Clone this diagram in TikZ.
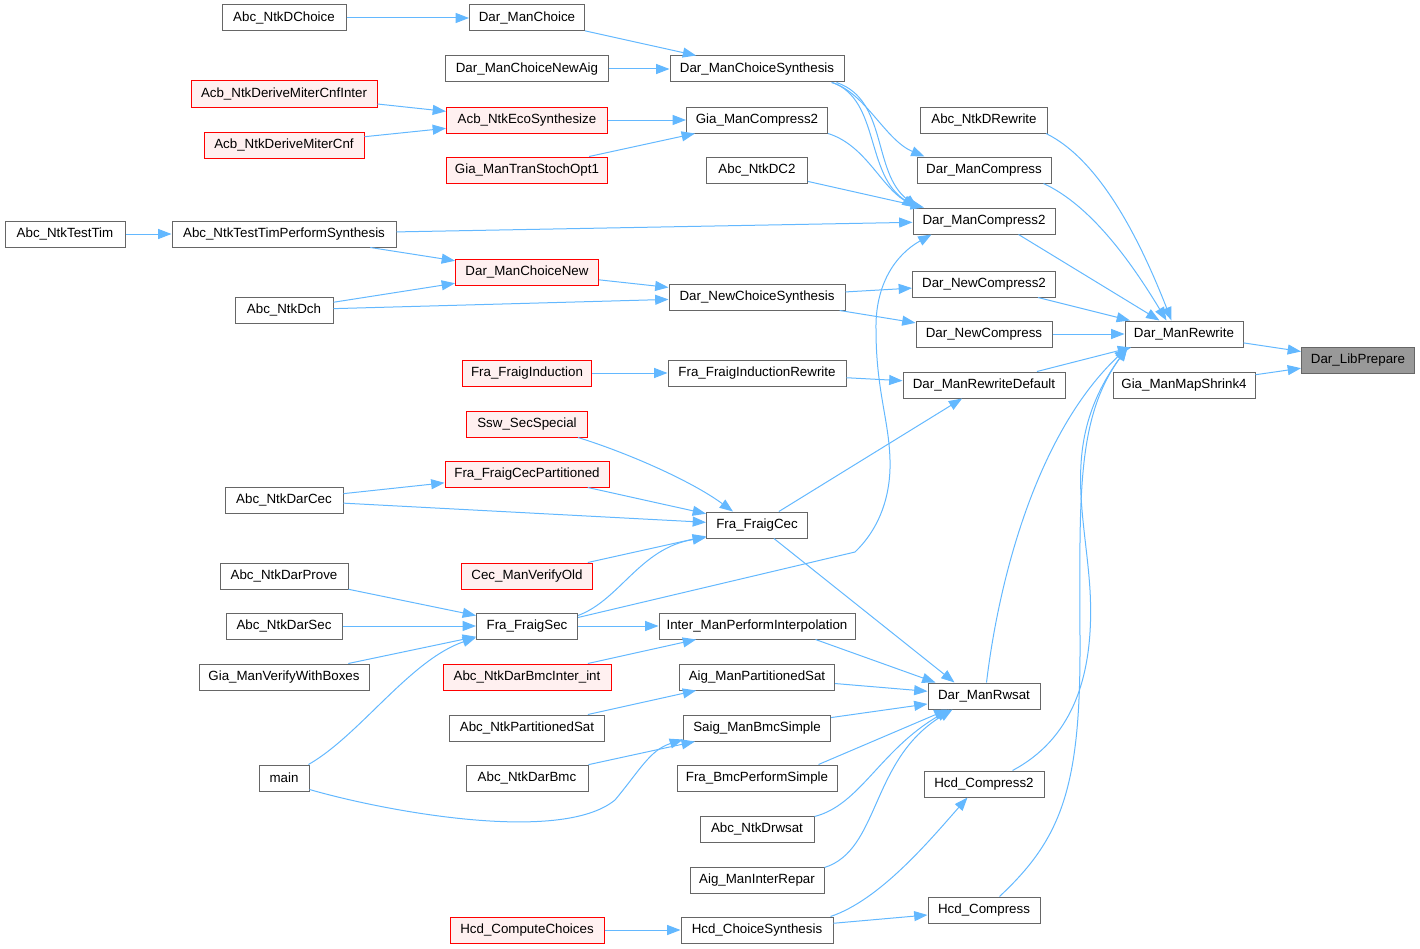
\documentclass[tikz,border=0pt]{standalone}
\usepackage{fontspec}
\setmainfont{Liberation Sans}
\usetikzlibrary{arrows.meta,calc}
\definecolor{edgec}{HTML}{63B8FF}
\definecolor{bordc}{HTML}{666666}
\definecolor{redfill}{HTML}{FFF0F0}
\definecolor{grayfill}{HTML}{999999}
\begin{document}
\begin{tikzpicture}[x=0.75pt,y=-0.75pt,
  box/.style={draw=bordc, fill=white, line width=0.75pt, minimum height=19.5pt, inner sep=0pt, font=\fontsize{10}{12}\selectfont},
  wd/.style={minimum width=#1*0.75pt},
  rbox/.style={box, draw=red, fill=redfill},
  gbox/.style={box, fill=grayfill},
  conn/.style={draw=edgec, line width=0.75pt, -{Triangle[length=10pt,width=7.5pt]}}]
\useasboundingbox (0,0) rectangle (1420,949);
% column 1
\node[box,wd=124] (dchoice) at (284,18) {Abc\_NtkDChoice};
\node[rbox,wd=186] (cnfinter) at (284,94) {Acb\_NtkDeriveMiterCnfInter};
\node[rbox,wd=160] (cnf) at (284,145) {Acb\_NtkDeriveMiterCnf};
\node[box,wd=120] (testtim) at (65,234) {Abc\_NtkTestTim};
\node[box,wd=224] (tps) at (284,234) {Abc\_NtkTestTimPerformSynthesis};
\node[box,wd=98] (dch) at (284,310) {Abc\_NtkDch};
\node[box,wd=118] (darcec) at (284,500) {Abc\_NtkDarCec};
\node[box,wd=128] (darprove) at (284,576) {Abc\_NtkDarProve};
\node[box,wd=116] (darsec) at (284,626) {Abc\_NtkDarSec};
\node[box,wd=170] (vwb) at (284,677) {Gia\_ManVerifyWithBoxes};
\node[box,wd=50] (main) at (284,778) {main};
% column 2
\node[box,wd=115] (mchoice) at (527,18) {Dar\_ManChoice};
\node[box,wd=163] (mcnaig) at (527,69) {Dar\_ManChoiceNewAig};
\node[rbox,wd=161] (eco) at (527,120) {Acb\_NtkEcoSynthesize};
\node[rbox,wd=161] (tso) at (527,170) {Gia\_ManTranStochOpt1};
\node[rbox,wd=143] (mcnew) at (527,272) {Dar\_ManChoiceNew};
\node[rbox,wd=129] (find) at (527,373) {Fra\_FraigInduction};
\node[rbox,wd=121] (ssw) at (527,424) {Ssw\_SecSpecial};
\node[rbox,wd=164] (fcp) at (527,474) {Fra\_FraigCecPartitioned};
\node[rbox,wd=131] (cvo) at (527,576) {Cec\_ManVerifyOld};
\node[box,wd=101] (fsec) at (527,626) {Fra\_FraigSec};
\node[rbox,wd=168] (bmcint) at (527,677) {Abc\_NtkDarBmcInter\_int};
\node[box,wd=155] (npsat) at (527,728) {Abc\_NtkPartitionedSat};
\node[box,wd=122] (darbmc) at (527,778) {Abc\_NtkDarBmc};
\node[rbox,wd=154] (hcc) at (527,930) {Hcd\_ComputeChoices};
% column 3
\node[box,wd=174] (mcs) at (757,69) {Dar\_ManChoiceSynthesis};
\node[box,wd=141] (gc2) at (757,120) {Gia\_ManCompress2};
\node[box,wd=101] (dc2) at (757,170) {Abc\_NtkDC2};
\node[box,wd=176] (ncs) at (757,297) {Dar\_NewChoiceSynthesis};
\node[box,wd=178] (fir) at (757,373) {Fra\_FraigInductionRewrite};
\node[box,wd=101] (fcec) at (757,525) {Fra\_FraigCec};
\node[box,wd=196] (interp) at (757,626) {Inter\_ManPerformInterpolation};
\node[box,wd=155] (apsat) at (757,677) {Aig\_ManPartitionedSat};
\node[box,wd=147] (bmcs) at (757,728) {Saig\_ManBmcSimple};
\node[box,wd=160] (fbmc) at (757,778) {Fra\_BmcPerformSimple};
\node[box,wd=114] (drwsat) at (757,829) {Abc\_NtkDrwsat};
\node[box,wd=134] (irep) at (757,880) {Aig\_ManInterRepar};
\node[box,wd=152] (hcs) at (757,930) {Hcd\_ChoiceSynthesis};
% column 4
\node[box,wd=127] (drw) at (984,120) {Abc\_NtkDRewrite};
\node[box,wd=134] (mc) at (984,170) {Dar\_ManCompress};
\node[box,wd=142] (mc2) at (984,221) {Dar\_ManCompress2};
\node[box,wd=143] (nc2) at (984,284) {Dar\_NewCompress2};
\node[box,wd=136] (nc) at (984,334) {Dar\_NewCompress};
\node[box,wd=162] (mrd) at (984,385) {Dar\_ManRewriteDefault};
\node[box,wd=112] (rwsat) at (984,696) {Dar\_ManRwsat};
\node[box,wd=120] (hc2) at (984,784) {Hcd\_Compress2};
\node[box,wd=112] (hc) at (984,910) {Hcd\_Compress};
% column 5, 6
\node[box,wd=118] (mrw) at (1184,334) {Dar\_ManRewrite};
\node[box,wd=142] (shr) at (1184,385) {Gia\_ManMapShrink4};
\node[gbox,wd=113] (lib) at (1358,360) {Dar\_LibPrepare};
% edges
\draw[conn] (dchoice) -- (mchoice);
\draw[conn] (mchoice) -- (mcs);
\draw[conn] (mcnaig) -- (mcs);
\draw[conn] (cnfinter) -- (eco);
\draw[conn] (cnf) -- (eco);
\draw[conn] (eco) -- (gc2);
\draw[conn] (tso) -- (gc2);
\draw[conn] ($(mcs.south east)+(-13,0)$) .. controls (865,92) and (885,140) .. ($(mc.north west)+(8,0)$);
\draw[conn] ($(mcs.south east)+(-12,0)$) .. controls (880,100) and (865,175) .. ($(mc2.north west)+(4,0)$);
\draw[conn] ($(mcs.south east)+(-8,0)$) .. controls (888,100) and (872,172) .. ($(mc2.north west)+(5,0)$);
\draw[conn] (gc2.south east) .. controls (865,145) and (880,185) .. ($(mc2.north west)+(3,0)$);
\draw[conn] (dc2) -- (mc2);
\draw[conn] (tps) -- (mc2);
\draw[conn] (testtim) -- (tps);
\draw[conn] (tps) -- (mcnew);
\draw[conn] (dch) -- (mcnew);
\draw[conn] (dch) -- (ncs);
\draw[conn] (mcnew) -- (ncs);
\draw[conn] (ncs) -- (nc2);
\draw[conn] (ncs) -- (nc);
\draw[conn] (find) -- (fir);
\draw[conn] (fir) -- (mrd);
\draw[conn] ($(ssw.south east)+(-10,0)$) .. controls (625,452) and (690,480) .. ($(fcec.north west)+(27,0)$);
\draw[conn] (fcp) -- (fcec);
\draw[conn] (darcec) -- (fcp);
\draw[conn] (darcec) -- (fcec);
\draw[conn] (fcec) -- (mrd);
\draw[conn] (fcec) -- ($(rwsat.north west)+(27,0)$);
\draw[conn] (cvo) -- (fcec);
\draw[conn] ($(fsec.north east)+(0,3)$) .. controls (620,600) and (640,548) .. ($(fcec.south west)+(0,-1)$);
\draw[conn] ($(fsec.north east)+(0,5)$) -- (855,552) .. controls (880,528) and (891,495) .. (890,460) .. controls (889,420) and (876,390) .. (876,330) .. controls (875,285) and (895,255) .. ($(mc2.south west)+(19,0)$);
\draw[conn] (fsec) -- (interp);
\draw[conn] (darprove) -- (fsec);
\draw[conn] (darsec) -- (fsec);
\draw[conn] (vwb) -- (fsec);
\draw[conn] ($(main.north east)+(-1,0)$) .. controls (360,735) and (410,660) .. ($(fsec.south west)+(0,-2)$);
\draw[conn] ($(main.south east)+(0,-2)$) .. controls (380,810) and (560,845) .. (615,800) .. controls (640,770) and (650,750) .. ($(bmcs.south west)+(0,-2)$);
\draw[conn] (bmcint) -- (interp);
\draw[conn] ($(interp.south east)+(-40,0)$) -- ($(rwsat.north west)+(8,0)$);
\draw[conn] (apsat) -- (rwsat);
\draw[conn] (npsat) -- (apsat);
\draw[conn] (bmcs) -- (rwsat);
\draw[conn] (darbmc) -- (bmcs);
\draw[conn] ($(fbmc.north east)+(-19,0)$) -- ($(rwsat.south west)+(20,0)$);
\draw[conn] ($(drwsat.north east)+(0,1)$) .. controls (860,805) and (880,750) .. ($(rwsat.south west)+(22,0)$);
\draw[conn] ($(irep.north east)+(0,1)$) .. controls (880,850) and (870,760) .. ($(rwsat.south west)+(25,0)$);
\draw[conn] (hcc) -- (hcs);
\draw[conn] ($(hcs.north east)+(-3,0)$) .. controls (880,900) and (930,840) .. ($(hc2.south west)+(44,0)$);
\draw[conn] (hcs) -- (hc);
\draw[conn] ($(drw.south east)+(-2,0)$) .. controls (1100,160) and (1140,240) .. ($(mrw.north west)+(47,0)$);
\draw[conn] ($(mc.south east)+(-8,0)$) .. controls (1090,205) and (1130,260) .. ($(mrw.north west)+(42,0)$);
\draw[conn] ($(mc2.south east)+(-37,0)$) -- ($(mrw.north west)+(35,0)$);
\draw[conn] (nc2) -- (mrw);
\draw[conn] (nc) -- (mrw);
\draw[conn] (mrd) -- (mrw);
\draw[conn] ($(rwsat.north west)+(59,0)$) .. controls (1000,570) and (1040,430) .. ($(mrw.south west)+(3,0)$);
\draw[conn] ($(hc2.north east)+(-32,0)$) .. controls (1070,740) and (1095,680) .. (1090,590) .. controls (1085,510) and (1060,440) .. ($(mrw.south west)+(3,0)$);
\draw[conn] ($(hc.north west)+(72,0)$) .. controls (1060,840) and (1080,790) .. (1080,650) .. controls (1080,500) and (1075,420) .. ($(mrw.south west)+(3,0)$);
\draw[conn] (mrw) -- (lib);
\draw[conn] (shr) -- (lib);
\end{tikzpicture}
\end{document}
